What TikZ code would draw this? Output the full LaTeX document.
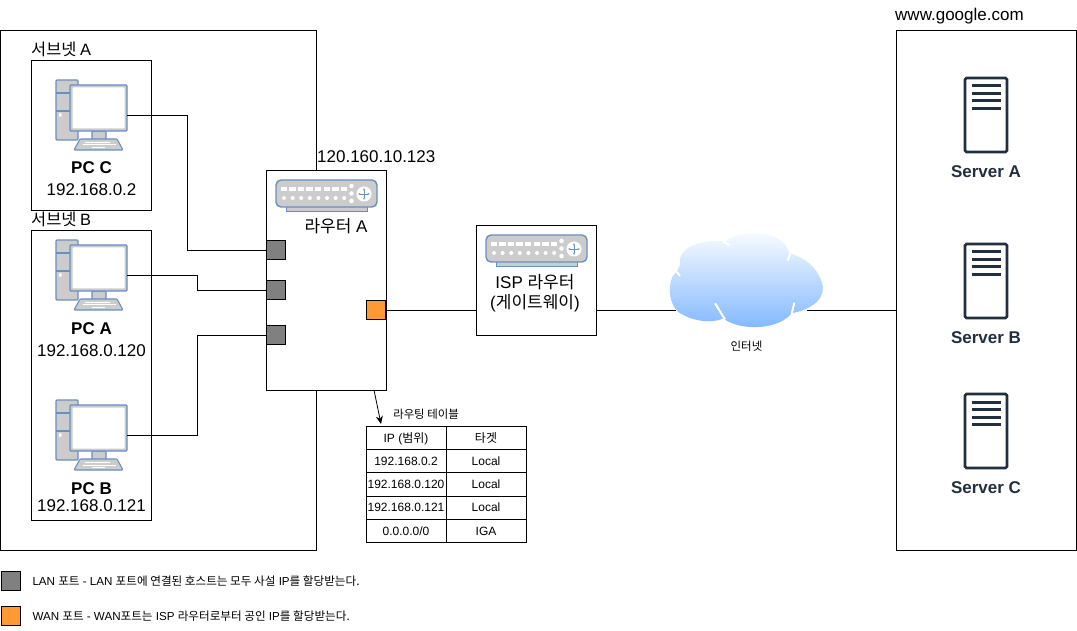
\documentclass[tikz,border=0pt]{standalone}
\usepackage{fontspec}
\setmainfont{Liberation Sans}
\newfontfamily\kr{Noto Sans CJK KR}
\usetikzlibrary{arrows.meta,positioning}
\definecolor{iconblue}{HTML}{6C8EBF}
\definecolor{icongray}{HTML}{CCCCCC}
\definecolor{portgray}{HTML}{808080}
\definecolor{portorange}{HTML}{FF9933}
\definecolor{serverdark}{HTML}{232F3E}
\definecolor{cloudblue}{HTML}{7EB6FF}
\tikzset{
	box/.style={draw, line width=0.8pt, inner sep=0pt, outer sep=0pt, anchor=north west},
	port/.style={draw, line width=0.8pt, inner sep=0pt, minimum size=19pt},
	lanport/.style={port, fill=portgray},
	wanport/.style={port, fill=portorange},
	icon/.style={inner sep=0pt, outer sep=0pt, minimum width=71pt, minimum height=70pt},
	cell/.style={draw, line width=0.8pt, inner sep=0pt, outer sep=0pt, minimum width=80pt, minimum height=23.2pt, text height=8.6pt, text depth=0pt, font=\fontsize{12}{14}\selectfont},
	label/.style={inner sep=0pt, font=\fontsize{17}{20.5}\selectfont},
	boldlabel/.style={inner sep=0pt, font=\fontsize{17}{20.5}\bfseries\selectfont},
	small/.style={inner sep=0pt, anchor=west, font=\fontsize{11.6}{14}\selectfont},
	wire/.style={line width=0.8pt}
}
% #1 = centre of the icon
\def\pcicon(#1,#2){
	\begin{scope}[shift={(#1,#2)}, draw=iconblue, line width=1.1pt, rounded corners=1pt]
		\fill[icongray, draw=iconblue] (-35.5,-35) rectangle (-13.5,25);
		\draw (-35.5,-22) -- (-21,-22);
		\draw (-35.5,-4) -- (-21,-4);
		\fill[white] (-32.5,-2) rectangle (-30,2);
		\fill[icongray, draw=iconblue] (0.5,16) rectangle (14.5,25);
		\fill[icongray, draw=iconblue] (-11.5,24) -- (25.5,24) -- (31.5,35) -- (-17.5,35) -- cycle;
		\draw[white, line width=1pt] (-7,27.5) -- (18,27.5);
		\draw[white, line width=1pt] (-9,30) -- (24,30);
		\draw[white, line width=1pt] (0,32.5) -- (13,32.5);
		\fill[icongray, draw=iconblue] (-21.5,-30) rectangle (35.5,16);
		\fill[white] (-19,-27.5) rectangle (33,13.5);
	\end{scope}
}
\def\routericon(#1,#2){
	\begin{scope}[shift={(#1,#2)}]
		\fill[icongray, draw=iconblue, line width=0.9pt] (10,26) rectangle (91,31);
		\fill[icongray, draw=iconblue, line width=1.4pt, rounded corners=5pt] (0,0) rectangle (101,27);
		\foreach \i in {0,...,7} {
			\fill[white] (4.5+\i*8.6,7.5) rectangle ++(6.5,3.2);
			\fill[white] (8+\i*8.6,18) circle (2);
		}
		\foreach \j in {6,13.5,21}
			\fill[white] (75.5,\j) circle (2.3);
		\fill[white] (88,14) circle (7.5);
		\draw[iconblue, line width=0.6pt, <->, >={Stealth[length=2.5pt]}] (82,14) -- (94,14);
		\draw[iconblue, line width=0.6pt, <->, >={Stealth[length=2.5pt]}] (88,8) -- (88,20);
	\end{scope}
}
\def\servericon(#1,#2){
	\begin{scope}[shift={(#1,#2)}]
		\draw[serverdark, line width=2.6pt, rounded corners=1.5pt] (-21,-37) rectangle (21,37);
		\foreach \j in {-29,-21.5,-14,-6.5}
			\draw[serverdark, line width=3pt] (-14.5,\j) -- (14.5,\j);
	\end{scope}
}
\begin{document}
\begin{tikzpicture}[x=1pt, y=-1pt]
	\useasboundingbox (0,0) rectangle (1077,631);

	% networks
	\node[box, minimum width=316pt, minimum height=520pt] (lan) at (0,30) {};
	\node[box, minimum width=120pt, minimum height=150pt] (subnetA) at (31,60) {};
	\node[box, minimum width=120pt, minimum height=290pt] (subnetB) at (31,230) {};
	\node[box, minimum width=180pt, minimum height=520pt] (google) at (896,30) {};
	\node[label, font=\fontsize{16.4}{20}\selectfont, anchor=south west] at (subnetA.north west) [yshift=3pt] {\kr 서브넷 {\normalfont A}};
	\node[label, font=\fontsize{16.4}{20}\selectfont, anchor=south west] at (subnetB.north west) [yshift=3pt] {\kr 서브넷 {\normalfont B}};
	\node[label, anchor=south west] at (895,24) {www.google.com};

	% hosts
	\node[icon] (pcC) at (91.5,115) {};
	\node[icon] (pcA) at (91.5,275) {};
	\node[icon] (pcB) at (91.5,435) {};
	\pcicon(91.5,115)
	\pcicon(91.5,275)
	\pcicon(91.5,435)
	\node[boldlabel, below=11pt of pcC] (nameC) {PC C};
	\node[label, below=10pt of nameC] {192.168.0.2};
	\node[boldlabel, below=12pt of pcA] (nameA) {PC A};
	\node[label, below=10pt of nameA] {192.168.0.120};
	\node[boldlabel, below=12pt of pcB] (nameB) {PC B};
	\node[label, below=5pt of nameB] {192.168.0.121};

	% routers
	\node[box, fill=white, minimum width=120pt, minimum height=220pt] (routerA) at (266,170) {};
	\node[box, fill=white, minimum width=120pt, minimum height=110pt] (isp) at (476,225) {};
	\routericon(276,180)
	\routericon(486,235)
	\node[label, anchor=south west] at (317,163) {120.160.10.123};
	\node[label] at (336,226) {{\kr 라우터} A};
	\node[label, align=center] at (535,293) {ISP {\kr 라우터}\\({\kr 게이트웨이})};
	\node[lanport] (portC) at (276,250) {};
	\node[lanport] (portA) at (276,290) {};
	\node[lanport] (portB) at (276,335) {};
	\node[wanport] (portW) at (376,310) {};

	% internet
	\begin{scope}[shift={(660,220)}, scale=1/3]
		\shade[top color=white, bottom color=cloudblue]
			(50,155) .. controls (20,175) and (20,265) .. (70,285)
			.. controls (105,305) and (160,310) .. (190,295)
			.. controls (230,330) and (350,335) .. (395,280)
			.. controls (470,265) and (500,225) .. (485,185)
			.. controls (470,140) and (430,110) .. (388,100)
			.. controls (370,30) and (250,20) .. (195,65)
			.. controls (130,55) and (50,80) .. (60,135) -- cycle;
		\draw[white, line width=2pt] (165,250) .. controls (175,265) and (183,280) .. (195,298);
		\draw[white, line width=2pt] (403,248) -- (395,282);
		\draw[white, line width=2pt] (383,122) -- (392,98);
		\draw[white, line width=2pt] (190,65) -- (208,75);
		\draw[white, line width=2pt] (50,155) -- (60,168);
	\end{scope}
	\coordinate (cloudW) at (676,310);
	\coordinate (cloudE) at (807,310);
	\node[small, font=\fontsize{11.5}{14}\selectfont, anchor=center] at (746.5,346) {\kr 인터넷};

	% servers
	\node[icon, minimum width=42pt, minimum height=74pt] (serverA) at (986,115) {};
	\node[icon, minimum width=42pt, minimum height=74pt] (serverB) at (986,281) {};
	\node[icon, minimum width=42pt, minimum height=74pt] (serverC) at (986,431) {};
	\servericon(986,115)
	\servericon(986,281)
	\servericon(986,431)
	\node[boldlabel, text=serverdark, below=13pt of serverA] {Server A};
	\node[boldlabel, text=serverdark, below=13pt of serverB] {Server B};
	\node[boldlabel, text=serverdark, below=13pt of serverC] {Server C};

	% wires
	\draw[wire] (pcC.east) -- (187,115) -- (187,250) -- (portC.west);
	\draw[wire] (pcA.east) -- (197,275) -- (197,290) -- (portA.west);
	\draw[wire] (pcB.east) -- (197,435) -- (197,335) -- (portB.west);
	\draw[wire] (portW.east) -- (isp.west |- portW.east);
	\draw[wire] (isp.east |- cloudW) -- (cloudW);
	\draw[wire] (cloudE) -- (google.west |- cloudE);

	% routing table
	\node[cell] (c11) at (406,438) {IP ({\kr 범위})};
	\node[cell, right=0pt of c11] (c12) {\kr 타겟};
	\node[cell, below=0pt of c11] (c21) {192.168.0.2};
	\node[cell, right=0pt of c21] (c22) {Local};
	\node[cell, below=0pt of c21] (c31) {192.168.0.120};
	\node[cell, right=0pt of c31] (c32) {Local};
	\node[cell, below=0pt of c31] (c41) {192.168.0.121};
	\node[cell, right=0pt of c41] (c42) {Local};
	\node[cell, below=0pt of c41] (c51) {0.0.0.0/0};
	\node[cell, right=0pt of c51] (c52) {IGA};
	\node[small, font=\fontsize{11.4}{14}\kr\selectfont, anchor=center] at (426,414) {라우팅 테이블};
	\coordinate (tableTip) at (381,424);
	\draw[wire, -{Stealth[length=8pt, width=7pt]}] (374,390) -- (tableTip);

	% legend
	\node[lanport, anchor=north west] (lanKey) at (1,571) {};
	\node[wanport, anchor=north west] (wanKey) at (1,606) {};
	\node[small, right=11.5pt of lanKey] {LAN {\kr 포트} - LAN {\kr 포트에 연결된 호스트는 모두 사설} IP{\kr 를 할당받는다.}};
	\node[small, right=11.5pt of wanKey] {WAN {\kr 포트} - WAN{\kr 포트는} ISP {\kr 라우터로부터 공인} IP{\kr 를 할당받는다.}};
\end{tikzpicture}
\end{document}
